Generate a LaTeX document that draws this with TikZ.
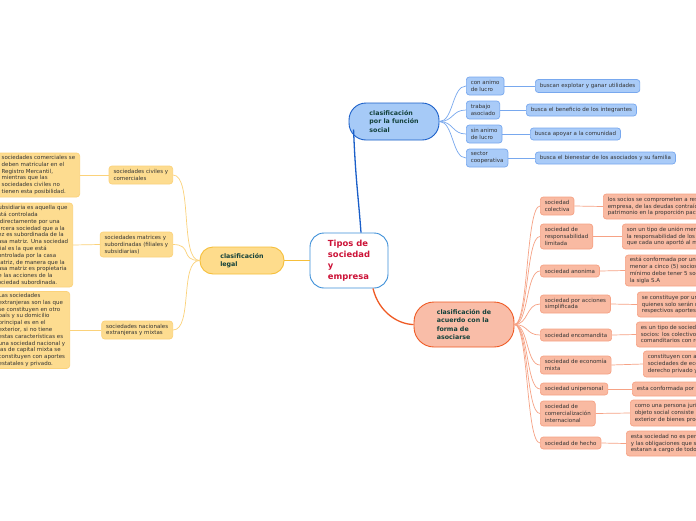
\documentclass[tikz,border=0pt]{standalone}
\usepackage{fontspec}
\setmainfont{DejaVu Sans}
\usetikzlibrary{calc}
\definecolor{txt}{HTML}{333333}
\definecolor{maintxt}{HTML}{12403A}
\definecolor{ctrtxt}{HTML}{CC1237}
\definecolor{ctrdraw}{HTML}{3D8FD8}
\definecolor{bmfill}{HTML}{A6CAF7}
\definecolor{bmdraw}{HTML}{1A5FC9}
\definecolor{bcfill}{HTML}{A9CBF8}
\definecolor{bcdraw}{HTML}{78A8EE}
\definecolor{ymfill}{HTML}{FEDC8C}
\definecolor{ymdraw}{HTML}{F6BF3A}
\definecolor{ycfill}{HTML}{FDDC90}
\definecolor{ycdraw}{HTML}{FBD27A}
\definecolor{smfill}{HTML}{F9BDA8}
\definecolor{smdraw}{HTML}{EF5A24}
\definecolor{scfill}{HTML}{F9BAA2}
\definecolor{scdraw}{HTML}{F6A285}
\begin{document}
\begin{tikzpicture}[x=1pt,y=-1pt,
  small/.style={rounded corners=3pt, align=left, font=\fontsize{5.5}{6.8}\selectfont,
    text=txt, inner xsep=4.5pt, inner ysep=1.5pt, line width=0.7pt},
  bchild/.style={small, fill=bcfill, draw=bcdraw},
  ychild/.style={small, fill=ycfill, draw=ycdraw},
  schild/.style={small, fill=scfill, draw=scdraw},
  mainnode/.style={align=left, font=\fontsize{6.3}{8.4}\selectfont\bfseries, text=maintxt, line width=0.9pt},
  bline/.style={draw=bcdraw, line width=0.7pt},
  yline/.style={draw=ycdraw, line width=0.7pt},
  sline/.style={draw=scdraw, line width=0.7pt}
]
\useasboundingbox (0,0) rectangle (696,520);
\clip (0,0) rectangle (696,520);
\fill[white] (0,0) rectangle (696,520);

% centre
\node[draw=ctrdraw, fill=white, line width=0.9pt, rounded corners=14pt, minimum width=78pt, minimum height=55pt,
  align=left, text=ctrtxt, font=\fontsize{8.4}{11}\selectfont\bfseries] (t) at (349,260.5)
  {Tipos de\\sociedad\\y\\empresa};

% main nodes
\node[mainnode, fill=bmfill, draw=bmdraw, rounded corners=17pt, minimum width=90pt, minimum height=37pt] (bm) at (394,121.5)
  {clasificación\\por la función\\social};
\node[mainnode, fill=ymfill, draw=ymdraw, rounded corners=13pt, minimum width=84pt, minimum height=27pt] (ym) at (242,260.5)
  {clasificación\\legal};
\node[mainnode, fill=smfill, draw=smdraw, rounded corners=20pt, minimum width=100pt, minimum height=45pt] (sm) at (464,324.5)
  {clasificación de\\acuerdo con la\\forma de\\asociarse};

% blue children
\node[bchild, anchor=west, minimum height=18pt] (b1) at (466,86) {con animo\\de lucro};
\node[bchild, anchor=west, minimum height=18pt] (b2) at (466,110) {trabajo\\asociado};
\node[bchild, anchor=west, minimum height=18pt] (b3) at (466,134) {sin animo\\de lucro};
\node[bchild, anchor=west, minimum height=18pt] (b4) at (466,158) {sector\\cooperativa};
\node[bchild, anchor=west, minimum height=13pt] (bd1) at (535,86) {buscan explotar y ganar utilidades};
\node[bchild, anchor=west, minimum height=12pt] (bd2) at (526,110) {busca el beneficio de los integrantes};
\node[bchild, anchor=west, minimum height=12pt] (bd3) at (530,134) {busca apoyar a la comunidad};
\node[bchild, anchor=west, minimum height=12pt] (bd4) at (535,158) {busca el bienestar de los asociados y su familia};

% yellow children
\node[ychild, anchor=east, minimum height=18pt] (y1) at (173,175) {sociedades civiles y\\comerciales};
\node[ychild, anchor=east, minimum height=25pt] (y2) at (173,244.5) {sociedades matrices y\\subordinadas (filiales y\\subsidiarias)};
\node[ychild, anchor=east, minimum height=18pt] (y3) at (173,330) {sociedades nacionales\\extranjeras y mixtas};
\node[ychild, anchor=east, minimum height=44pt] (yd1) at (80,175)
  {sociedades comerciales se\\deben matricular en el\\Registro Mercantil,\\mientras que las\\sociedades civiles no\\tienen esta posibilidad.};
\node[ychild, anchor=east, minimum height=84pt] (yd2) at (73,245)
  {Subsidiaria es aquella que\\está controlada\\indirectamente por una\\tercera sociedad que a la\\vez es subordinada de la\\casa matriz. Una sociedad\\filial es la que está\\controlada por la casa\\matriz, de manera que la\\casa matriz es propietaria\\de las acciones de la\\sociedad subordinada.};
\node[ychild, anchor=east, minimum height=77pt] (yd3) at (70,330)
  {Las sociedades\\extranjeras son las que\\se constituyen  en otro\\país y su domicilio\\principal es en el\\exterior, si no tiene\\estas características es\\una sociedad nacional y\\las de capital mixta se\\constituyen con aportes\\estatales y privado.};

% salmon children
\node[schild, anchor=west, minimum height=18pt] (s1) at (540,206) {sociedad\\colectiva};
\node[schild, anchor=west, minimum height=25pt] (s2) at (540,236.5) {sociedad de\\responsabilidad\\limitada};
\node[schild, anchor=west, minimum height=12pt] (s3) at (540,271) {sociedad anonima};
\node[schild, anchor=west, minimum height=18pt] (s4) at (540,304) {sociedad por acciones\\simplificada};
\node[schild, anchor=west, minimum height=12pt] (s5) at (540,335) {sociedad encomandita};
\node[schild, anchor=west, minimum height=18pt] (s6) at (540,365) {sociedad de economía\\mixta};
\node[schild, anchor=west, minimum height=12pt] (s7) at (540,389) {sociedad unipersonal};
\node[schild, anchor=west, minimum height=25pt] (s8) at (540,413.5) {sociedad de\\comercialización\\internacional};
\node[schild, anchor=west, minimum height=12pt] (s9) at (540,443) {sociedad de hecho};

\node[schild, anchor=west, minimum height=25pt] (sd1) at (603,206.5)
  {los socios se comprometen a responder solidariamente por la\\empresa, de las deudas contraídas con su\\patrimonio en la proporción pactada};
\node[schild, anchor=west, minimum height=25pt] (sd2) at (622,236.5)
  {son un tipo de unión mercantil en la que\\la responsabilidad de los socios se limita\\que cada uno aportó al momento de constituirla};
\node[schild, anchor=west, minimum height=31pt] (sd3) at (625,270.5)
  {está conformada por un número no\\menor a cinco (5) socios, es decir que\\mínimo debe tener 5 socios, se identifica con\\la sigla S.A};
\node[schild, anchor=west, minimum height=25pt] (sd4) at (637,304.5)
  {se constituye por una o varias personas\\quienes solo serán responsables hasta sus\\respectivos aportes};
\node[schild, anchor=west, minimum height=25pt] (sd5) at (636,334.5)
  {es un tipo de sociedad con dos clases de\\socios: los colectivos con responsabilidad y\\comanditarios con responsabilidad limitada};
\node[schild, anchor=west, minimum height=26pt] (sd6) at (643,364)
  {constituyen con aportes estatales y\\sociedades de economía de\\derecho privado y público};
\node[schild, anchor=west, minimum height=14pt] (sd7) at (632,389)
  {esta conformada por una sola persona};
\node[schild, anchor=west, minimum height=26pt] (sd8) at (630,413)
  {como una persona jurídica cuyo\\objeto social consiste en la venta al\\exterior de bienes producidos en el país};
\node[schild, anchor=west, minimum height=25pt] (sd9) at (626,443.5)
  {esta sociedad no es persona jurídica\\y las obligaciones que se contraigan\\estaran a cargo de todos los socios};

% main connectors
\draw[draw=bmdraw, line width=1.3pt] ($(t.north)+(12,0)$) .. controls +(-3,-40) and +(2,50) .. ($(bm.west)+(5,8)$);
\draw[draw=ymdraw, line width=1.3pt] (t.west) -- (ym.east);
\draw[draw=smdraw, line width=1.3pt] ($(t.south)+(24,0)$) .. controls +(6,25) and +(-14,0) .. (sm.west);

% blue connectors
\foreach \c in {b1,b2,b3,b4}
  \draw[bline] (bm.east) .. controls +(14,0) and +(-14,0) .. (\c.west);
\draw[bline] (b1.east) -- (bd1.west);
\draw[bline] (b2.east) -- (bd2.west);
\draw[bline] (b3.east) -- (bd3.west);
\draw[bline] (b4.east) -- (bd4.west);

% yellow connectors
\foreach \c in {y1,y2,y3}
  \draw[yline] (ym.west) .. controls +(-20,0) and +(20,0) .. (\c.east);
\draw[yline] (y1.west) -- (yd1.east);
\draw[yline] (y2.west) -- (yd2.east);
\draw[yline] (y3.west) -- (yd3.east);

% salmon connectors
\foreach \c in {s1,s2,s3,s4,s5,s6,s7,s8,s9}
  \draw[sline] (sm.east) .. controls +(14,0) and +(-14,0) .. (\c.west);
\foreach \a/\b in {s1/sd1,s2/sd2,s3/sd3,s4/sd4,s5/sd5,s6/sd6,s7/sd7,s8/sd8,s9/sd9}
  \draw[sline] (\a.east) -- (\b.west);
\end{tikzpicture}
\end{document}
